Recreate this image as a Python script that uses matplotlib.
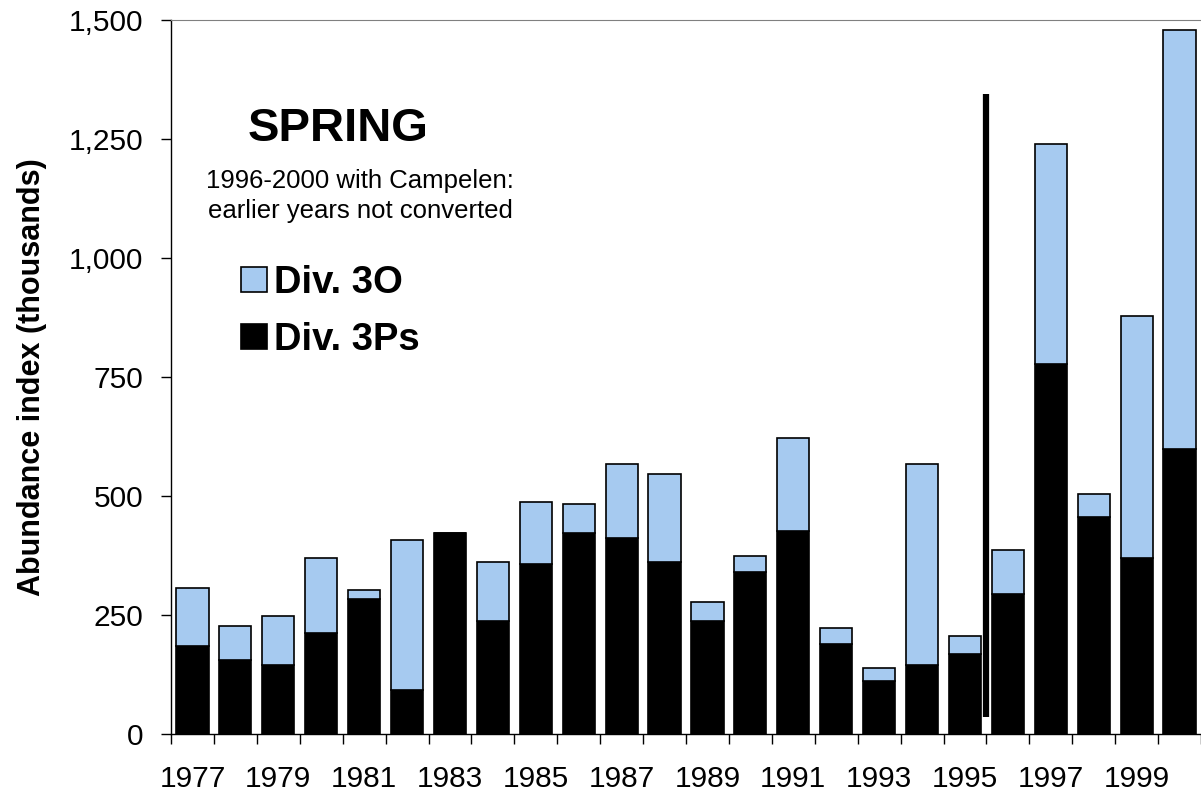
import matplotlib
matplotlib.use("Agg")
import matplotlib.pyplot as plt
import numpy as np

plt.rcParams['font.family'] = ['Liberation Sans', 'DejaVu Sans']

# data (thousands)
years = list(range(1977, 2001))
div_3ps = [185, 156, 145, 213, 283, 93, 422, 237, 358, 422, 412, 362,
           237, 340, 426, 190, 111, 145, 169, 295, 778, 455, 370, 598]
div_3o = [122, 71, 103, 156, 19, 314, 0, 124, 129, 61, 155, 184,
          40, 34, 196, 33, 27, 422, 36, 91, 462, 49, 509, 882]
ytick_vals = [0, 250, 500, 750, 1000, 1250, 1500]
ytick_labels = ['0', '250', '500', '750', '1,000', '1,250', '1,500']
# survey gear change marker (between 1995 and 1996)
gear_change_x = 18.5
gear_line_range = (36, 1344)

W, H = 1201, 799
fig = plt.figure(figsize=(W / 100, H / 100), dpi=100)
ax = fig.add_axes([171 / W, 65 / H, 1030 / W, 714 / H])

x = np.arange(len(years))
light_blue = '#A6CAF0'
b1 = ax.bar(x, div_3ps, width=0.75, color='black', edgecolor='black',
            linewidth=1.2, label='Div. 3Ps')
b2 = ax.bar(x, div_3o, width=0.75, bottom=div_3ps, color=light_blue,
            edgecolor='black', linewidth=1.2, label='Div. 3O')

ax.vlines(gear_change_x, *gear_line_range, color='black', linewidth=4.5)

ax.set_xlim(-0.5, 23.5)
ax.set_ylim(0, 1500)

# category boundaries carry the tick marks, odd years carry the labels
ax.set_xticks(np.arange(-0.5, 24, 1))
ax.set_xticklabels([])
ax.set_xticks(x[::2], [str(y) for y in years[::2]], minor=True)
ax.tick_params(axis='x', which='major', direction='out', length=7, width=1)
ax.tick_params(axis='x', which='minor', length=0, pad=22, labelsize=21.5)

ax.set_yticks(ytick_vals, ytick_labels)
ax.tick_params(axis='y', direction='out', length=7, width=1, pad=13, labelsize=21.5)

ax.set_ylabel('Abundance index (thousands)', fontsize=22, fontweight='bold')
ax.yaxis.set_label_coords(-0.12, 0.5)

ax.spines['right'].set_visible(False)
ax.spines['top'].set_color('#808080')
ax.spines['left'].set_linewidth(1)
ax.spines['bottom'].set_linewidth(1)

fig.text(338 / W, 1 - 129 / H, 'SPRING', fontsize=34, fontweight='bold',
         ha='center', va='center')
fig.text(360 / W, 1 - 181 / H, '1996-2000 with Campelen:', fontsize=18.5,
         ha='center', va='center')
fig.text(360 / W, 1 - 211 / H, 'earlier years not converted', fontsize=18.5,
         ha='center', va='center')

fig.legend(handles=[b2, b1], labels=['Div. 3O', 'Div. 3Ps'],
           loc='upper left', bbox_to_anchor=(241 / W, 1 - 265 / H),
           frameon=False, prop={'size': 27.5, 'weight': 'bold'},
           handlelength=0.68, handleheight=0.63, handletextpad=0.18,
           labelspacing=0.56, borderaxespad=0, borderpad=0)

fig.savefig('out.png', dpi=100)
